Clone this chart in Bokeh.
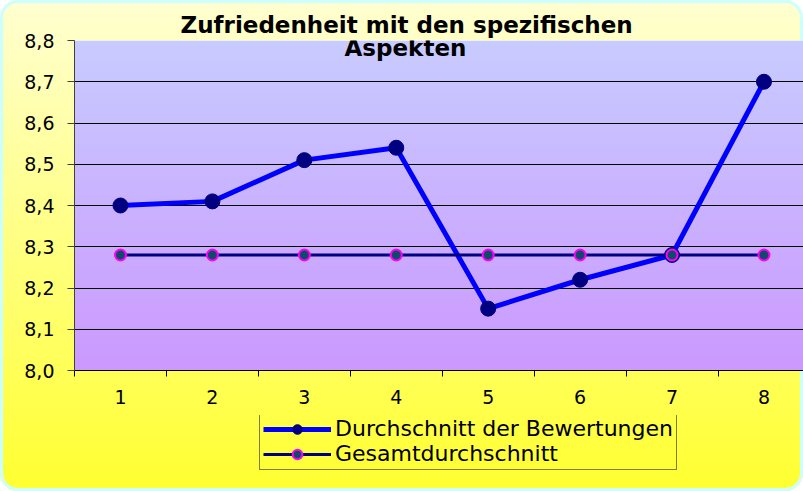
import numpy as np
from bokeh.plotting import figure
from bokeh.layouts import column
from bokeh.models import FixedTicker, Range1d, Label, Legend, LegendItem, Title
from bokeh.embed import file_html
from bokeh.resources import INLINE

# ---- data ----
categories = [1, 2, 3, 4, 5, 6, 7, 8]
x_labels = ["1", "2", "3", "4", "5", "6", "7", "8"]
bewertungen = [8.40, 8.41, 8.51, 8.54, 8.15, 8.22, 8.28, 8.70]
gesamt = [8.28, 8.28, 8.28, 8.28, 8.28, 8.28, 8.28, 8.28]
y_ticks = [8.0, 8.1, 8.2, 8.3, 8.4, 8.5, 8.6, 8.7, 8.8]
y_labels = ["8,0", "8,1", "8,2", "8,3", "8,4", "8,5", "8,6", "8,7", "8,8"]
title_lines = ["Zufriedenheit mit den spezifischen", "Aspekten"]
series_names = ["Durchschnitt der Bewertungen", "Gesamtdurchschnitt"]

X0, X1 = 0.5, 8.43
Y0, Y1 = y_ticks[0], y_ticks[-1]

# styles of the two series
S1_LINE = dict(line_color="#0000FF", line_width=5)
S1_MARK = dict(marker="circle", size=15, fill_color="#000080", line_color="#000080")
S2_LINE = dict(line_color="#000080", line_width=3)
S2_MARK = dict(marker="circle", size=11, fill_color="#0F4A6B",
               line_color="#FF00FF", line_width=2)

p = figure(width=803, height=415, output_backend="svg", toolbar_location=None,
           x_range=Range1d(X0, X1), y_range=Range1d(Y0, Y1),
           min_border_left=74, min_border_right=0, min_border_top=40,
           min_border_bottom=45)
p.border_fill_color = None
p.outline_line_color = None

# title line 1 sits above the plot area
p.title = Title(text=title_lines[0], align="left", offset=106,
                text_font="DejaVu Sans", text_font_style="bold",
                text_font_size="23px", text_color="black",
                standoff=6)

# plot-area gradient (bottom -> top)
n = 330
img = np.empty((n, 1), dtype=np.uint32)
v = img.view(dtype=np.uint8).reshape((n, 1, 4))
t = np.linspace(0, 1, n)
bot = np.array([204, 153, 255])
top = np.array([200, 204, 255])
cols = bot[None, :] * (1 - t[:, None]) + top[None, :] * t[:, None]
v[:, 0, 0] = cols[:, 0]
v[:, 0, 1] = cols[:, 1]
v[:, 0, 2] = cols[:, 2]
v[:, 0, 3] = 255
p.image_rgba(image=[img], x=X0, y=Y0, dw=X1 - X0, dh=Y1 - Y0, level="image")

# grid
p.xgrid.visible = False
p.ygrid.ticker = FixedTicker(ticks=y_ticks[1:-1])
p.ygrid.grid_line_color = "black"
p.ygrid.grid_line_width = 1

# y axis
p.yaxis.ticker = FixedTicker(ticks=y_ticks)
p.yaxis.major_label_overrides = {tk: lb for tk, lb in zip(y_ticks, y_labels)}
p.yaxis.axis_line_color = "#404040"
p.yaxis.major_tick_line_color = "#404040"
p.yaxis.major_tick_out = 7
p.yaxis.major_tick_in = 0
p.yaxis.minor_tick_line_color = None
p.yaxis.major_label_standoff = 13
p.yaxis.major_label_text_font = "DejaVu Sans"
p.yaxis.major_label_text_font_size = "19px"
p.yaxis.major_label_text_color = "black"

# x axis
minor = [c - 0.5 for c in categories] + [categories[-1] + 0.5]
p.xaxis.ticker = FixedTicker(ticks=categories, minor_ticks=minor)
p.xaxis.major_label_overrides = {c: lb for c, lb in zip(categories, x_labels)}
p.xaxis.axis_line_color = "black"
p.xaxis.major_tick_line_color = None
p.xaxis.major_tick_out = 0
p.xaxis.major_tick_in = 0
p.xaxis.minor_tick_line_color = "black"
p.xaxis.minor_tick_out = 6
p.xaxis.minor_tick_in = 0
p.xaxis.major_label_standoff = 13
p.xaxis.major_label_text_font = "DejaVu Sans"
p.xaxis.major_label_text_font_size = "19px"
p.xaxis.major_label_text_color = "black"

# series
p.line(categories, bewertungen, **S1_LINE)
p.scatter(categories, bewertungen, **S1_MARK)
p.line(categories, gesamt, **S2_LINE)
p.scatter(categories, gesamt, **S2_MARK)

# title line 2 inside the plot area
p.add_layout(Label(x=4.1, y=Y1, text=title_lines[1], text_align="center",
                   text_baseline="middle", y_offset=-7,
                   text_font="DejaVu Sans", text_font_style="bold",
                   text_font_size="23px", text_color="black"))

# ---- legend strip below the chart ----
q = figure(width=803, height=76, output_backend="svg", toolbar_location=None,
           x_axis_type=None, y_axis_type=None,
           x_range=Range1d(X0, X1), y_range=Range1d(Y0, Y1),
           min_border_left=0, min_border_right=0, min_border_top=0,
           min_border_bottom=0)
q.border_fill_color = None
q.background_fill_color = None
q.outline_line_color = None
q.grid.visible = False
k1 = q.line(categories, bewertungen, visible=False, **S1_LINE)
m1 = q.scatter(categories, bewertungen, visible=False, **S1_MARK)
k2 = q.line(categories, gesamt, visible=False, **S2_LINE)
m2 = q.scatter(categories, gesamt, visible=False, **S2_MARK)

legend = Legend(items=[LegendItem(label=series_names[0], renderers=[k1, m1]),
                       LegendItem(label=series_names[1], renderers=[k2, m2])],
                location=(185, 21), click_policy="none")
legend.border_line_color = "black"
legend.border_line_width = 1
legend.background_fill_alpha = 0
legend.glyph_width = 68
legend.glyph_height = 24
legend.label_height = 24
legend.spacing = 0
legend.padding = 3
legend.margin = 0
legend.label_standoff = 4
legend.label_text_font = "DejaVu Sans"
legend.label_text_font_size = "22px"
legend.label_text_color = "black"
q.add_layout(legend)

layout = column(p, q, spacing=0)
layout.styles = {
    "background": "linear-gradient(to bottom, #FFFFD2 0%, #FFFF30 100%)",
    "border-radius": "18px",
    "box-shadow": "inset 0 0 0 3px #CCFFFF",
}

open("out.html", "w").write(file_html(layout, INLINE))
